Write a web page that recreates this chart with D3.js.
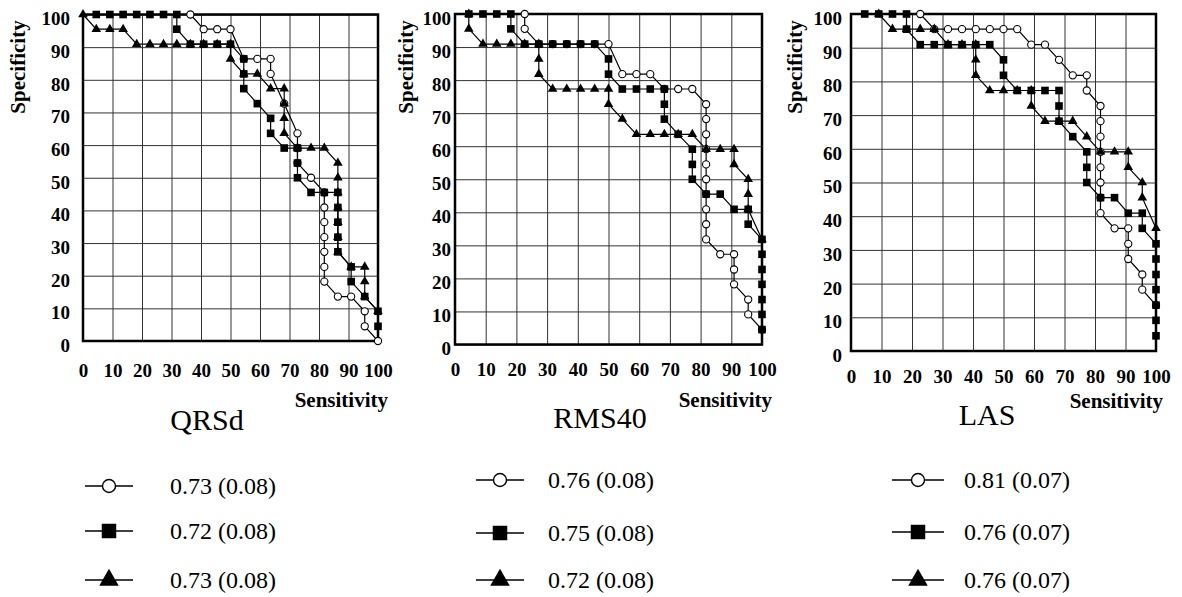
<!DOCTYPE html>
<html>
<head>
<meta charset="utf-8">
<script src="https://cdn.jsdelivr.net/npm/d3@7"></script>
<style>
  body { margin: 0; background: #fff; }
  text { font-family: "Liberation Serif", "Times New Roman", serif; fill: #000; }
</style>
</head>
<body>
<script>
'use strict';

// tick labels
var sensTicks = [0, 10, 20, 30, 40, 50, 60, 70, 80, 90, 100];
var specTicks = [0, 10, 20, 30, 40, 50, 60, 70, 80, 90, 100];

var panelTitles = ["QRSd", "RMS40", "LAS"];

// AUC (SE) legend labels, one per series (circle, square, triangle)
var qrsdAuc  = ["0.73 (0.08)", "0.72 (0.08)", "0.73 (0.08)"];
var rms40Auc = ["0.76 (0.08)", "0.75 (0.08)", "0.72 (0.08)"];
var lasAuc   = ["0.81 (0.07)", "0.76 (0.07)", "0.76 (0.07)"];

// QRSd
var qrsdCircleX = [36.4, 40.9, 45.5, 50, 54.5, 59.1, 63.6, 63.6, 68.2, 72.7, 72.7, 72.7, 77.3, 81.8, 81.8, 81.8, 81.8, 81.8, 81.8, 81.8, 86.4, 90.9, 95.5, 95.5, 100];
var qrsdCircleY = [100, 95.5, 95.5, 95.5, 86.4, 86.4, 86.4, 81.8, 72.7, 63.6, 59.1, 54.5, 50, 45.5, 40.9, 36.4, 31.8, 27.3, 22.7, 18.2, 13.6, 13.6, 9.1, 4.5, 0];
var qrsdSquareX = [4.5, 9.1, 13.6, 18.2, 22.7, 27.3, 31.8, 31.8, 36.4, 40.9, 45.5, 50, 54.5, 54.5, 54.5, 59.1, 63.6, 63.6, 68.2, 72.7, 72.7, 72.7, 77.3, 81.8, 86.4, 86.4, 86.4, 86.4, 86.4, 90.9, 90.9, 95.5, 100, 100];
var qrsdSquareY = [100, 100, 100, 100, 100, 100, 100, 95.5, 90.9, 90.9, 90.9, 90.9, 86.4, 81.8, 77.3, 72.7, 68.2, 63.6, 59.1, 59.1, 54.5, 50, 45.5, 45.5, 45.5, 40.9, 36.4, 31.8, 27.3, 22.7, 18.2, 13.6, 9.1, 4.5];
var qrsdTriX = [0, 4.5, 9.1, 13.6, 18.2, 22.7, 27.3, 31.8, 36.4, 40.9, 45.5, 50, 50, 54.5, 59.1, 63.6, 68.2, 68.2, 68.2, 68.2, 72.7, 77.3, 81.8, 86.4, 86.4, 86.4, 86.4, 86.4, 86.4, 86.4, 90.9, 95.5, 95.5, 95.5, 100];
var qrsdTriY = [100, 95.5, 95.5, 95.5, 90.9, 90.9, 90.9, 90.9, 90.9, 90.9, 90.9, 90.9, 86.4, 81.8, 81.8, 77.3, 77.3, 72.7, 68.2, 63.6, 59.1, 59.1, 59.1, 54.5, 50, 45.5, 40.9, 36.4, 31.8, 27.3, 22.7, 22.7, 18.2, 13.6, 9.1];

// RMS40
var rmsCircleX = [22.7, 22.7, 27.3, 31.8, 36.4, 40.9, 45.5, 50, 54.5, 59.1, 63.6, 68.2, 72.7, 77.3, 81.8, 81.8, 81.8, 81.8, 81.8, 81.8, 81.8, 81.8, 81.8, 81.8, 86.4, 90.9, 90.9, 90.9, 95.5, 95.5, 100];
var rmsCircleY = [100, 95.5, 90.9, 90.9, 90.9, 90.9, 90.9, 90.9, 81.8, 81.8, 81.8, 77.3, 77.3, 77.3, 72.7, 68.2, 63.6, 59.1, 54.5, 50, 45.5, 40.9, 36.4, 31.8, 27.3, 27.3, 22.7, 18.2, 13.6, 9.1, 4.5];
var rmsSquareX = [4.5, 9.1, 13.6, 18.2, 18.2, 22.7, 27.3, 31.8, 36.4, 40.9, 45.5, 50, 50, 54.5, 59.1, 63.6, 68.2, 68.2, 68.2, 72.7, 77.3, 77.3, 77.3, 81.8, 86.4, 90.9, 95.5, 95.5, 100, 100, 100, 100, 100, 100, 100];
var rmsSquareY = [100, 100, 100, 100, 95.5, 90.9, 90.9, 90.9, 90.9, 90.9, 90.9, 86.4, 81.8, 77.3, 77.3, 77.3, 77.3, 72.7, 68.2, 63.6, 59.1, 54.5, 50, 45.5, 45.5, 40.9, 40.9, 36.4, 31.8, 27.3, 22.7, 18.2, 13.6, 9.1, 4.5];
var rmsTriX = [4.5, 4.5, 9.1, 13.6, 18.2, 22.7, 27.3, 27.3, 27.3, 31.8, 36.4, 40.9, 45.5, 50, 50, 54.5, 59.1, 63.6, 68.2, 72.7, 77.3, 81.8, 86.4, 90.9, 90.9, 95.5, 95.5, 95.5, 100];
var rmsTriY = [100, 95.5, 90.9, 90.9, 90.9, 90.9, 90.9, 86.4, 81.8, 77.3, 77.3, 77.3, 77.3, 77.3, 72.7, 68.2, 63.6, 63.6, 63.6, 63.6, 63.6, 59.1, 59.1, 59.1, 54.5, 50, 45.5, 40.9, 31.8];

// LAS
var lasCircleX = [22.7, 27.3, 31.8, 36.4, 40.9, 45.5, 50, 54.5, 59.1, 63.6, 68.2, 72.7, 77.3, 77.3, 81.8, 81.8, 81.8, 81.8, 81.8, 81.8, 81.8, 81.8, 86.4, 90.9, 90.9, 90.9, 95.5, 95.5, 100];
var lasCircleY = [100, 95.5, 95.5, 95.5, 95.5, 95.5, 95.5, 95.5, 90.9, 90.9, 86.4, 81.8, 81.8, 77.3, 72.7, 68.2, 63.6, 59.1, 54.5, 50, 45.5, 40.9, 36.4, 36.4, 31.8, 27.3, 22.7, 18.2, 13.6];
var lasSquareX = [4.5, 9.1, 13.6, 18.2, 18.2, 22.7, 27.3, 31.8, 36.4, 40.9, 45.5, 50, 50, 54.5, 59.1, 63.6, 68.2, 68.2, 68.2, 72.7, 77.3, 77.3, 77.3, 81.8, 86.4, 90.9, 95.5, 95.5, 100, 100, 100, 100, 100, 100, 100];
var lasSquareY = [100, 100, 100, 100, 95.5, 90.9, 90.9, 90.9, 90.9, 90.9, 90.9, 86.4, 81.8, 77.3, 77.3, 77.3, 77.3, 72.7, 68.2, 63.6, 59.1, 54.5, 50, 45.5, 45.5, 40.9, 40.9, 36.4, 31.8, 27.3, 22.7, 18.2, 13.6, 9.1, 4.5];
var lasTriX = [9.1, 13.6, 18.2, 22.7, 27.3, 31.8, 36.4, 40.9, 40.9, 40.9, 45.5, 50, 54.5, 59.1, 59.1, 63.6, 68.2, 72.7, 77.3, 81.8, 86.4, 90.9, 90.9, 95.5, 95.5, 100];
var lasTriY = [100, 95.5, 95.5, 95.5, 95.5, 90.9, 90.9, 90.9, 86.4, 81.8, 77.3, 77.3, 77.3, 77.3, 72.7, 68.2, 68.2, 68.2, 63.6, 59.1, 59.1, 59.1, 54.5, 50, 45.5, 36.4];

function pts(xs, ys) {
  return xs.map(function(v, i) { return {x: v, y: ys[i]}; });
}

var panels = [
  {title: panelTitles[0], auc: qrsdAuc,
   series: [pts(qrsdCircleX, qrsdCircleY), pts(qrsdSquareX, qrsdSquareY), pts(qrsdTriX, qrsdTriY)],
   left: 83, right: 378, top: 14.5, bottom: 341, yPad: 13, xBase: 377, specX: 25,
   sensRight: 388, sensY: 407, titleX: 207, titleY: 430,
   legX0: 85, legX1: 133, legText: 170, rows: [486, 531, 580]},
  {title: panelTitles[1], auc: rms40Auc,
   series: [pts(rmsCircleX, rmsCircleY), pts(rmsSquareX, rmsSquareY), pts(rmsTriX, rmsTriY)],
   left: 455, right: 762, top: 14, bottom: 344.5, yPad: 4, xBase: 376, specX: 413,
   sensRight: 772, sensY: 407, titleX: 600, titleY: 428,
   legX0: 476, legX1: 524, legText: 548, rows: [480, 533, 580]},
  {title: panelTitles[2], auc: lasAuc,
   series: [pts(lasCircleX, lasCircleY), pts(lasSquareX, lasSquareY), pts(lasTriX, lasTriY)],
   left: 851, right: 1156, top: 14, bottom: 351, yPad: 9, xBase: 383, specX: 802,
   sensRight: 1163, sensY: 408, titleX: 987, titleY: 425,
   legX0: 892, legX1: 944, legText: 964, rows: [480, 532, 580]}
];

var svg = d3.select("body").append("svg")
  .attr("width", 1182)
  .attr("height", 597);

var squareSym = d3.symbol().type(d3.symbolSquare).size(58);
var triSym = d3.symbol().type(d3.symbolTriangle).size(40);
var legSquare = d3.symbol().type(d3.symbolSquare).size(210);
var legTri = d3.symbol().type(d3.symbolTriangle).size(165);

panels.forEach(function(p) {
  var g = svg.append("g");
  var x = d3.scaleLinear().domain([0, 100]).range([p.left, p.right]);
  var y = d3.scaleLinear().domain([0, 100]).range([p.bottom, p.top]);

  // grid + tick labels
  var xAxis = g.append("g")
    .attr("transform", "translate(0," + p.bottom + ")")
    .call(d3.axisBottom(x).tickValues(sensTicks).tickSize(-(p.bottom - p.top)));
  xAxis.select(".domain").remove();
  xAxis.selectAll("line").attr("stroke", "#333").attr("stroke-width", 1);
  xAxis.selectAll("text")
    .attr("y", p.xBase - p.bottom).attr("dy", null)
    .style("font-size", "19px").style("font-weight", "bold")
    .style("font-family", "Liberation Serif");

  var yAxis = g.append("g")
    .attr("transform", "translate(" + p.left + ",0)")
    .call(d3.axisLeft(y).tickValues(specTicks).tickSize(-(p.right - p.left)));
  yAxis.select(".domain").remove();
  yAxis.selectAll("line").attr("stroke", "#333").attr("stroke-width", 1);
  yAxis.selectAll("text")
    .attr("x", -p.yPad).attr("dy", "0.55em")
    .style("font-size", "19px").style("font-weight", "bold")
    .style("font-family", "Liberation Serif");

  g.append("rect")
    .attr("x", p.left).attr("y", p.top)
    .attr("width", p.right - p.left).attr("height", p.bottom - p.top)
    .attr("fill", "none").attr("stroke", "#000").attr("stroke-width", 2.5);

  // axis titles
  g.append("text")
    .attr("transform", "translate(" + p.specX + ",67) rotate(-90)")
    .attr("text-anchor", "middle")
    .style("font-size", "21px").style("font-weight", "bold")
    .text("Specificity");
  g.append("text")
    .attr("x", p.sensRight).attr("y", p.sensY)
    .attr("text-anchor", "end")
    .style("font-size", "21px").style("font-weight", "bold")
    .text("Sensitivity");
  g.append("text")
    .attr("x", p.titleX).attr("y", p.titleY)
    .attr("text-anchor", "middle")
    .style("font-size", "30px")
    .text(p.title);

  var line = d3.line()
    .x(function(d) { return x(d.x); })
    .y(function(d) { return y(d.y); });

  p.series.forEach(function(s) {
    g.append("path")
      .attr("d", line(s))
      .attr("fill", "none")
      .attr("stroke", "#000")
      .attr("stroke-width", 1.2);
  });

  // circles, then triangles, then squares on top
  g.selectAll(".circ").data(p.series[0]).enter().append("circle")
    .attr("cx", function(d) { return x(d.x); })
    .attr("cy", function(d) { return y(d.y); })
    .attr("r", 3.6)
    .attr("fill", "#fff").attr("stroke", "#000").attr("stroke-width", 1.1);
  g.selectAll(".tri").data(p.series[2]).enter().append("path")
    .attr("d", triSym)
    .attr("transform", function(d) { return "translate(" + x(d.x) + "," + y(d.y) + ")"; })
    .attr("fill", "#000");
  g.selectAll(".sq").data(p.series[1]).enter().append("path")
    .attr("d", squareSym)
    .attr("transform", function(d) { return "translate(" + x(d.x) + "," + y(d.y) + ")"; })
    .attr("fill", "#000");

  // legend
  var mid = (p.legX0 + p.legX1) / 2;
  p.rows.forEach(function(ry, i) {
    g.append("line")
      .attr("x1", p.legX0).attr("x2", p.legX1)
      .attr("y1", ry).attr("y2", ry)
      .attr("stroke", "#000").attr("stroke-width", 1.6);
    if (i === 0) {
      g.append("circle").attr("cx", mid).attr("cy", ry).attr("r", 6.5)
        .attr("fill", "#fff").attr("stroke", "#000").attr("stroke-width", 1.4);
    } else if (i === 1) {
      g.append("path").attr("d", legSquare)
        .attr("transform", "translate(" + mid + "," + ry + ")").attr("fill", "#000");
    } else {
      g.append("path").attr("d", legTri)
        .attr("transform", "translate(" + mid + "," + ry + ")").attr("fill", "#000");
    }
    g.append("text")
      .attr("x", p.legText).attr("y", ry + 8)
      .style("font-size", "24px")
      .text(p.auc[i]);
  });
});
</script>
</body>
</html>
